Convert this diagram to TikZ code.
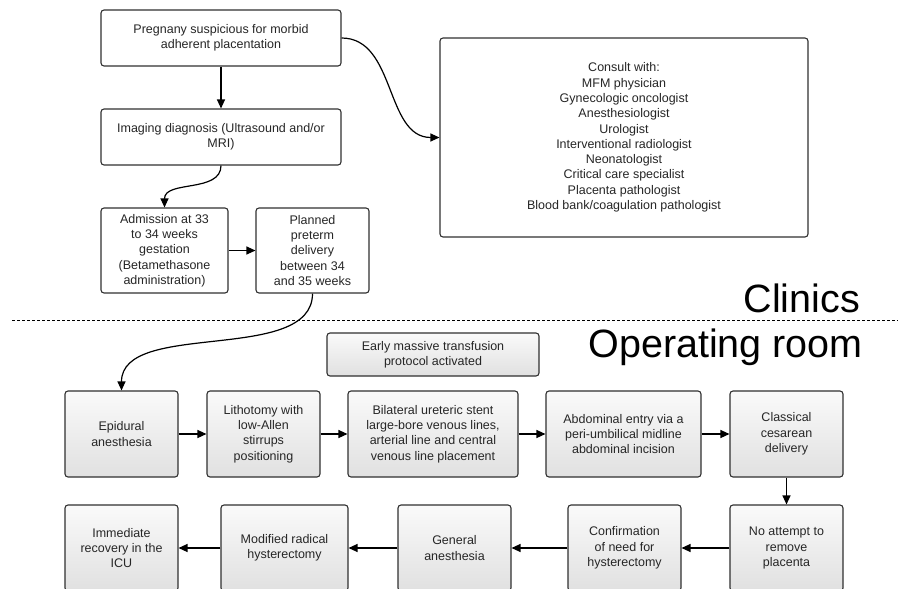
\documentclass[tikz,border=0pt]{standalone}
\usepackage{fontspec}
\setmainfont{Liberation Sans}
\usetikzlibrary{arrows.meta}

\definecolor{inkgray}{HTML}{262626}
\definecolor{edgegray}{HTML}{303030}

\tikzset{
  box/.style={draw=edgegray, line width=1.1pt, rounded corners=3pt, align=center,
    text=inkgray, inner sep=2pt, font=\fontsize{12.5}{15.3}\selectfont},
  plainbox/.style={box, fill=white},
  shadebox/.style={box, top color=gray!4, bottom color=gray!24},
  arr/.style={draw=black, line width=1.2pt, -{Triangle[length=9pt,width=8pt]}},
  roomlabel/.style={anchor=base east, inner sep=0pt, text=black,
    font=\fontsize{39.5}{40}\selectfont}
}

\begin{document}
\begin{tikzpicture}[x=1pt, y=-1pt]
  \useasboundingbox (0,0) rectangle (903,589);

  % clinics part (top)
  \node[plainbox, minimum width=240pt, minimum height=56pt] (preg) at (221,38)
    {Pregnany suspicious for morbid\\adherent placentation};
  \node[plainbox, minimum width=240pt, minimum height=56pt] (imaging) at (221,137)
    {Imaging diagnosis (Ultrasound and/or\\MRI)};
  \node[plainbox, minimum width=127pt, minimum height=85pt] (admit) at (164.5,250.5)
    {Admission at 33\\to 34 weeks\\gestation\\(Betamethasone\\administration)};
  \node[plainbox, minimum width=113pt, minimum height=85pt] (planned) at (312.5,250.5)
    {Planned\\preterm\\delivery\\between 34\\and 35 weeks};
  \node[plainbox, minimum width=368pt, minimum height=199pt] (consult) at (624,137.5)
    {Consult with:\\MFM physician\\Gynecologic oncologist\\Anesthesiologist\\Urologist\\
     Interventional radiologist\\Neonatologist\\Critical care specialist\\
     Placenta pathologist\\Blood bank/coagulation pathologist};

  % border between the two settings
  \coordinate (sepL) at (12,320);
  \coordinate (sepR) at (898,320);
  \draw[line width=0.8pt, dash pattern=on 3pt off 2pt] (sepL) -- (sepR);
  \node[roomlabel] (clinics) at (860,312) {Clinics};
  \node[roomlabel] (oproom) at (863,357) {Operating room};

  % operating room part (bottom)
  \node[shadebox, minimum width=212pt, minimum height=43pt] (transf) at (433,354.5)
    {Early massive transfusion\\protocol activated};

  \node[shadebox, minimum width=113pt, minimum height=86pt] (epid) at (121.5,434)
    {Epidural\\anesthesia};
  \node[shadebox, minimum width=113pt, minimum height=86pt] (litho) at (263.5,434)
    {Lithotomy with\\low-Allen\\stirrups\\positioning};
  \node[shadebox, minimum width=170pt, minimum height=86pt] (bilat) at (433,434)
    {Bilateral ureteric stent\\large-bore venous lines,\\arterial line and central\\venous line placement};
  \node[shadebox, minimum width=155pt, minimum height=86pt] (abdom) at (623.5,434)
    {Abdominal entry via a\\peri-umbilical midline\\abdominal incision};
  \node[shadebox, minimum width=113pt, minimum height=86pt] (classic) at (786.5,434)
    {Classical\\cesarean\\delivery};

  \node[shadebox, minimum width=113pt, minimum height=86pt] (noatt) at (786.5,548)
    {No attempt to\\remove\\placenta};
  \node[shadebox, minimum width=113pt, minimum height=86pt] (confirm) at (624.5,548)
    {Confirmation\\of need for\\hysterectomy};
  \node[shadebox, minimum width=113pt, minimum height=86pt] (general) at (454.5,548)
    {General\\anesthesia};
  \node[shadebox, minimum width=127pt, minimum height=86pt] (modif) at (284.5,548)
    {Modified radical\\hysterectomy};
  \node[shadebox, minimum width=113pt, minimum height=86pt] (icu) at (121.5,548)
    {Immediate\\recovery in the\\ICU};

  % connectors
  \draw[arr] (preg) -- (imaging);
  \draw[arr] (preg.east) to[out=0, in=180] (consult.west);
  \draw[arr] (imaging.south) to[out=-90, in=90] (admit.north);
  \draw[arr] (admit) -- (planned);
  \draw[arr] (planned.south) to[out=-90, in=90, looseness=0.85] (epid.north);

  \draw[arr] (epid) -- (litho);
  \draw[arr] (litho) -- (bilat);
  \draw[arr] (bilat) -- (abdom);
  \draw[arr] (abdom) -- (classic);
  \draw[arr] (classic) -- (noatt);
  \draw[arr] (noatt) -- (confirm);
  \draw[arr] (confirm) -- (general);
  \draw[arr] (general) -- (modif);
  \draw[arr] (modif) -- (icu);
\end{tikzpicture}
\end{document}
